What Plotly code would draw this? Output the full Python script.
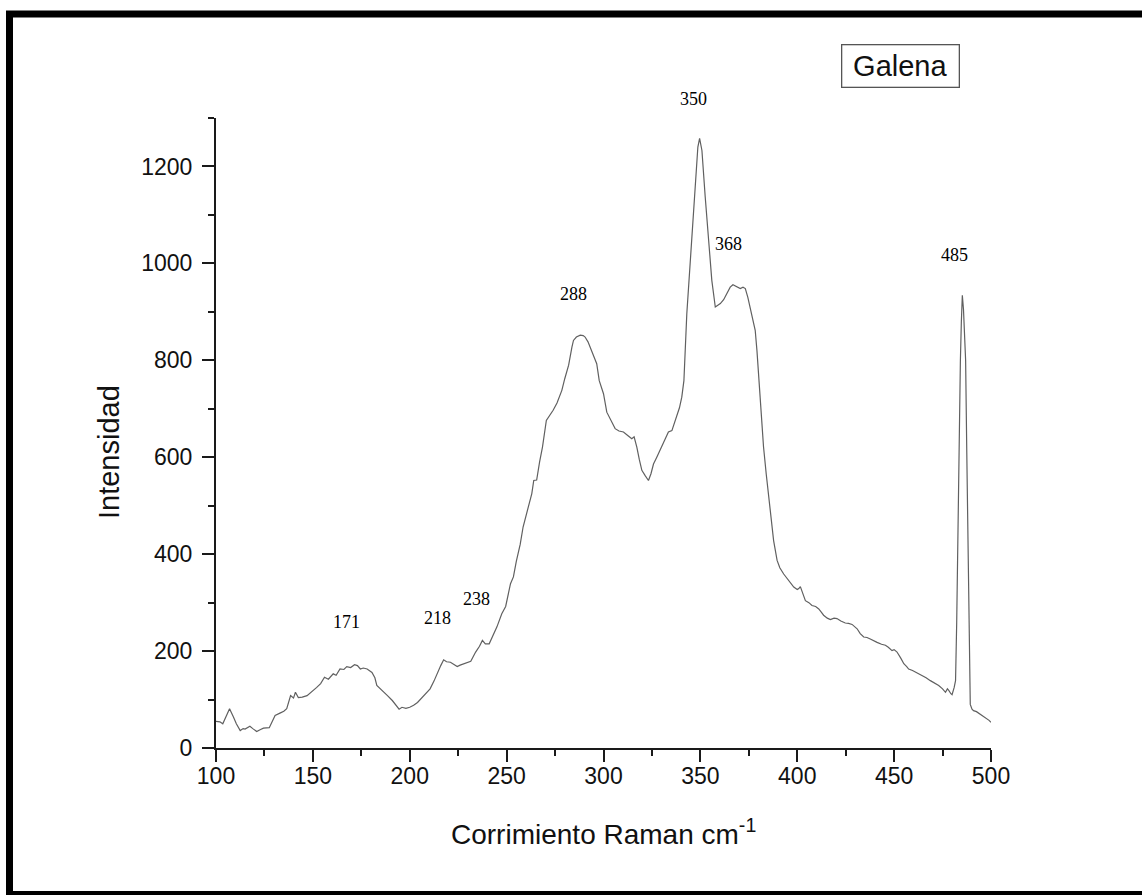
import plotly.graph_objects as go

# Raman spectrum of galena
shift = [
    100, 102, 103.5, 105, 107, 109, 110.5, 112.5, 114, 115, 117.5, 119, 121, 123, 124.5,
    127.5, 129, 130.5, 133, 135, 136.5, 138.5, 140, 141, 142.5, 144.5, 147, 149.5, 152,
    154, 156, 158, 160.5, 162, 164, 166, 167.5, 169.5, 171.5, 173, 174.5, 176, 178, 180.5,
    182, 183, 185, 186.5, 188.5, 191, 193, 194.5, 196, 198, 200, 202, 204, 205.5, 207,
    209, 210.5, 212.5, 214, 216, 217.5, 219, 221, 223, 224.5, 226, 228, 230, 231.5, 234,
    236, 237.5, 239, 241, 243, 245, 247.5, 249.5, 252, 253.5, 255, 257, 258.5, 261, 263,
    264, 265.5, 267, 268.5, 270.5, 272, 274, 276, 278.5, 280, 282, 283.7, 284.5, 286, 288,
    289.5, 290.5, 292, 293.1, 295, 296.5, 297.8, 300, 301.7, 303.5, 306, 308, 310.3,
    312.5, 314.6, 315.8, 317.2, 318.5, 319.8, 321.5, 323.2, 324.5, 325.8, 327.5, 329.2,
    331.5, 333.5, 335.3, 337.8, 339.2, 340.4, 341.5, 343, 344.5, 345.6, 347.3, 348.7,
    349.6, 350.8, 352.5, 354.2, 355.9, 357.7, 359, 360.3, 362, 363.7, 365.4, 366.8, 368,
    369.5, 370.6, 372, 373.2, 374.5, 375.7, 377, 378.3, 379.2, 380, 381.2, 382.6, 384,
    385.2, 386.5, 387.8, 389.6, 391, 393, 395.5, 398.2, 400, 400.8, 401.6, 402.5, 404.2,
    406, 407.6, 409.5, 411.1, 412.5, 413.6, 415.5, 417.1, 419, 420.5, 422.5, 424.8, 426.5,
    428.3, 430.9, 432.5, 434.3, 436, 437.7, 439.5, 441.2, 443.5, 445.5, 447, 448.9, 450,
    451.5, 453.5, 455, 456.5, 457.5, 459.5, 461, 462.5, 464.4, 466.5, 468.7, 471, 473,
    475, 476.5, 477.5, 478.2, 479.3, 479.9, 481, 481.7, 482.3, 482.8, 483.5, 484.2, 484.7,
    485.2, 485.8, 486.4, 486.9, 487.5, 488.1, 488.7, 489.3, 490.2, 491, 492.5, 494.5, 496,
    497.9, 499, 500,
]

intensity = [
    55, 54, 50, 62, 81, 64, 50, 36, 40, 39, 45, 40, 34, 38, 41,
    42, 55, 67, 72, 76, 81, 108, 103, 115, 104, 105, 108, 116, 125,
    133, 146, 142, 153, 150, 163, 162, 168, 166, 172, 170, 163, 165, 163, 156,
    145, 129, 122, 115, 108, 98, 88, 80, 84, 82, 84, 88, 94, 100, 108,
    114, 122, 138, 153, 170, 182, 178, 177, 172, 168, 171, 174, 176, 179, 198,
    210, 222, 215, 215, 232, 250, 277, 292, 339, 353, 385, 420, 456, 492, 525,
    552, 553, 590, 621, 676, 684, 697, 712, 738, 762, 790, 827, 841, 848, 852,
    851, 848, 838, 827, 808, 793, 758, 731, 693, 680, 659, 654, 652,
    645, 638, 642, 621, 595, 573, 562, 552, 566, 586, 600, 614,
    632, 652, 655, 683, 702, 724, 758, 896, 990, 1068, 1171, 1240,
    1258, 1233, 1137, 1047, 965, 910, 913, 917, 925, 937, 951, 956, 954,
    950, 948, 951, 948, 930, 910, 885, 862, 820, 773, 700, 621, 565,
    518, 470, 428, 387, 372, 359, 345, 332, 327, 329, 333, 322, 304,
    300, 294, 292, 287, 280, 274, 268, 265, 268, 267, 262, 258, 257,
    255, 246, 236, 229, 228, 225, 221, 218, 214, 212, 208, 201, 203,
    198, 185, 174, 168, 163, 160, 157, 153, 150, 145, 139, 134, 129,
    122, 115, 122, 119, 112, 110, 125, 139, 260, 430, 690, 800, 880,
    934, 905, 850, 800, 610, 428, 220, 90, 80, 77, 75, 70, 66,
    60, 57, 53,
]

peak_labels = [171, 218, 238, 288, 350, 368, 485]

W, H = 1142, 895
L, R, T, B = 216, 151, 118, 147
PW, PH = W - L - R, H - T - B
Y_MAX = 1300


def px(xp):
    return (xp - L) / PW


def py(yp):
    return (H - B - yp) / PH


fig = go.Figure()
fig.add_trace(go.Scatter(
    x=shift, y=intensity, mode="lines",
    line=dict(color="#606060", width=1.2),
    showlegend=False, hoverinfo="skip",
))

axis_common = dict(
    showline=True, linecolor="#1a1a1a", linewidth=2,
    ticks="outside", ticklen=12, tickwidth=1.5, tickcolor="#1a1a1a",
    showgrid=False, zeroline=False,
    tickfont=dict(family="Liberation Sans, Arial, sans-serif", size=23, color="#111"),
)

fig.update_xaxes(
    range=[100, 500], tick0=100, dtick=50, ticklabelstandoff=-6,
    minor=dict(ticks="outside", ticklen=6, tickwidth=1.5, tickcolor="#1a1a1a", dtick=25, showgrid=False),
    **axis_common,
)
fig.update_yaxes(
    range=[0, Y_MAX], tick0=0, dtick=200, ticklabelstandoff=5,
    minor=dict(ticks="outside", ticklen=6, tickwidth=1.5, tickcolor="#1a1a1a", dtick=100, showgrid=False),
    **axis_common,
)

annotations = []
# peak position labels, placed above each band
label_heights = [260, 269, 308, 937, 1340, 1041, 1018]
for val, hgt in zip(peak_labels, label_heights):
    annotations.append(dict(
        x=val, y=hgt / Y_MAX, xref="x", yref="paper", text=str(val), showarrow=False,
        xshift=-7, xanchor="center", yanchor="middle",
        font=dict(family="Liberation Serif, Times New Roman, serif", size=18, color="#000"),
    ))

# axis titles
annotations.append(dict(
    x=px(603), y=py(832), xref="paper", yref="paper", showarrow=False,
    xanchor="center", yanchor="middle",
    text="Corrimiento Raman cm<sup>-1</sup>",
    font=dict(family="Liberation Sans, Arial, sans-serif", size=28, color="#111"),
))
annotations.append(dict(
    x=px(109), y=py(452), xref="paper", yref="paper", showarrow=False,
    xanchor="center", yanchor="middle",
    text="Intensidad", textangle=-90,
    font=dict(family="Liberation Sans, Arial, sans-serif", size=29, color="#111"),
))

# sample name box
annotations.append(dict(
    x=px(900), y=py(65.5), xref="paper", yref="paper", showarrow=False,
    xanchor="center", yanchor="middle",
    text="Galena", width=112, height=37,
    bordercolor="#555", borderwidth=1.3, borderpad=2, bgcolor="white",
    font=dict(family="Liberation Sans, Arial, sans-serif", size=29, color="#111"),
))

# outer black frame
shapes = [dict(
    type="rect", xref="paper", yref="paper",
    x0=px(9.5), x1=px(1150), y0=py(14), y1=py(894.5),
    line=dict(color="black", width=7), fillcolor="rgba(0,0,0,0)", layer="above",
)]

fig.update_layout(
    width=W, height=H,
    margin=dict(l=L, r=R, t=T, b=B, autoexpand=False),
    paper_bgcolor="white", plot_bgcolor="white",
    annotations=annotations, shapes=shapes,
)

fig.write_html("out.html", config={"displayModeBar": False})
